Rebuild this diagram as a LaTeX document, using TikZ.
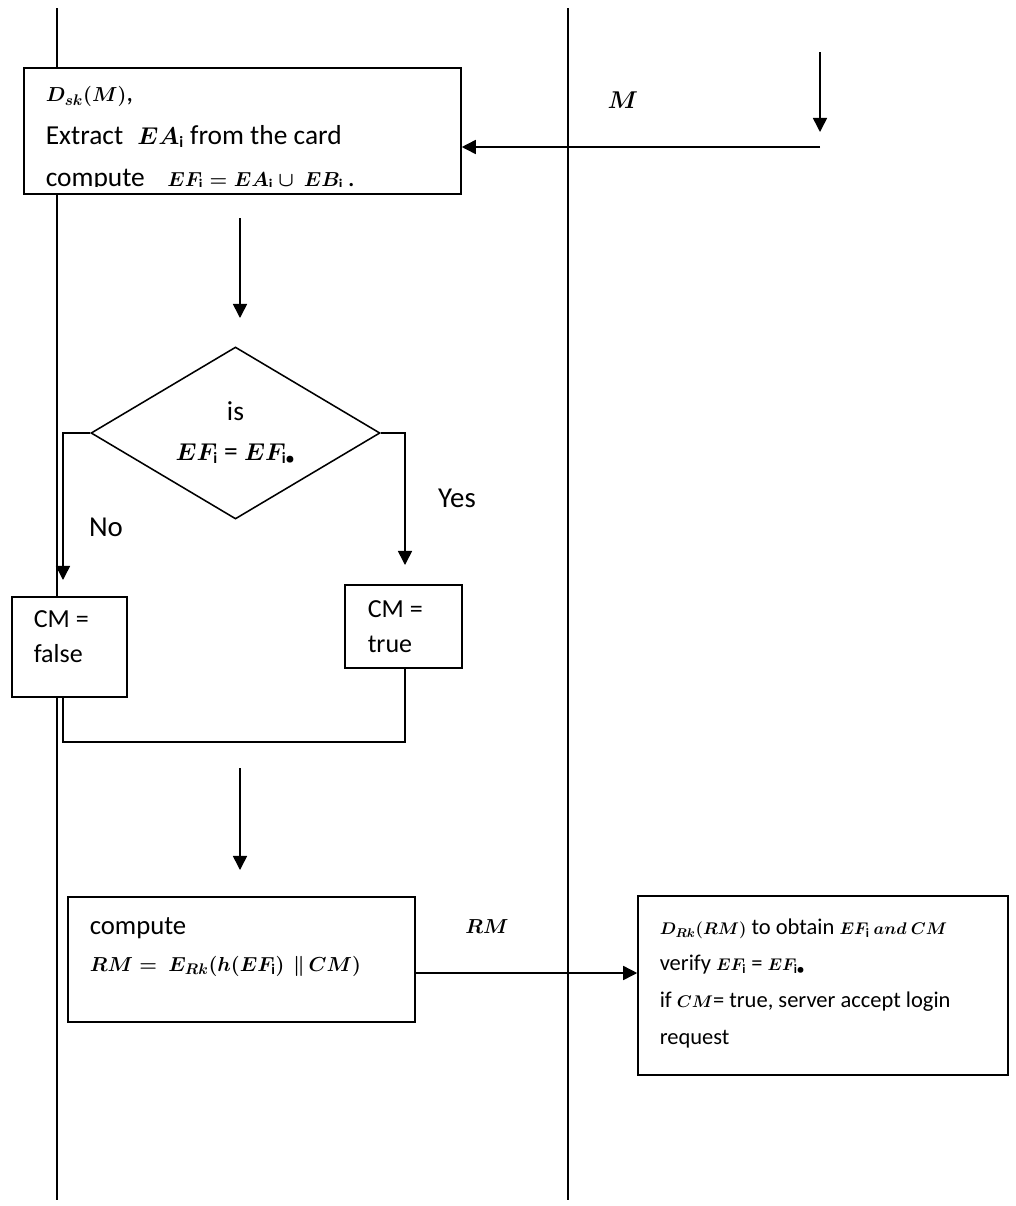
\documentclass[tikz,border=0pt]{standalone}
\usepackage{amsmath,amssymb}
\usepackage{fontspec}
\setmainfont{Carlito}
\usepackage{tikz}
\usetikzlibrary{arrows.meta,shapes.geometric}
% bold italic formula at its own size
\newcommand{\mth}[2][16]{{\fontsize{#1}{#1}\selectfont$\boldsymbol{#2}$}}

\begin{document}
\begin{tikzpicture}[x=0.025cm, y=-0.025cm, line width=1.1pt,
    font=\fontsize{19.5}{22}\selectfont,
    box/.style={draw, fill=white, inner sep=0pt},
    txt/.style={inner sep=0pt, align=left, anchor=north west},
    arr/.style={-{Triangle[length=10pt,width=10pt]}}]
    \def\u{0.025cm}
    \useasboundingbox (0,0) rectangle (1016,1206);
    % the two lifelines
    \coordinate (cardTop) at (57,8);
    \coordinate (cardBot) at (57,1200);
    \coordinate (srvTop) at (568,8);
    \coordinate (srvBot) at (568,1200);
    \draw (cardTop) -- (cardBot);
    \draw (srvTop) -- (srvBot);
    % boxes
    \node[box, minimum width=437*\u, minimum height=126*\u] (dec) at (242.5,131) {};
    \node[draw, diamond, fill=white, inner sep=0pt,
          minimum width=289*\u, minimum height=172*\u] (chk) at (235.5,433) {};
    \node[box, minimum width=115*\u, minimum height=100*\u] (cmF) at (69.5,647) {};
    \node[box, minimum width=117*\u, minimum height=83*\u] (cmT) at (403.5,626.5) {};
    \node[box, minimum width=347*\u, minimum height=125*\u] (rmBox) at (241.5,959.5) {};
    \node[box, minimum width=370*\u, minimum height=179*\u] (srv) at (823,985.5) {};
    % texts
    \begin{scope}
      \clip (24,68) rectangle (461,186);
      \node[txt, font=\fontsize{19.5}{30}\selectfont] (decTxt) at (45,86) {
        \mth[15.5]{D_{sk}(M)},\\
        Extract\hspace{10pt}\mth{EA_{\mathrm{i}}} from the card\\
        compute\hspace{16pt}\mth[15]{EF_{\mathrm{i}}=EA_{\mathrm{i}}\cup\ EB_{\mathrm{i}}}\,.};
    \end{scope}
    \node[align=center, font=\fontsize{19.5}{28}\selectfont] (chkTxt) at (chk.center) {
      is\\ \mth{EF_{\mathrm{i}}} = \mth{EF_{\mathrm{i}\bullet}}};
    \node[txt, font=\fontsize{18.5}{25}\selectfont] (cmFTxt) at (33,610) {CM =\\ false};
    \node[txt, font=\fontsize{18.5}{25}\selectfont] (cmTTxt) at (367,600) {CM =\\ true};
    \node[txt, font=\fontsize{19}{26}\selectfont] (rmTxt) at (89,917) {
      compute\\
      \mth[15]{RM=\ E_{Rk}(h(EF_{\mathrm{i}})\ \,\|\,CM)}};
    \node[txt, font=\fontsize{16}{26}\selectfont] (srvTxt) at (659,918) {
      \mth[13]{D_{Rk}(RM)} to obtain \mth[13]{EF_{\mathrm{i}}\ and\ CM}\\
      verify \mth[13]{EF_{\mathrm{i}}} = \mth[13]{EF_{\mathrm{i}\bullet}}\\
      if \mth[13]{CM}= true, server accept login\\
      request};
    \node (lblM) at (623,100) {\mth[17]{M}};
    \node (lblRM) at (487,927) {\mth[15]{RM}};
    \node[font=\fontsize{20.5}{22}\selectfont] (lblNo) at (106,527) {No};
    \node[font=\fontsize{20.5}{22}\selectfont] (lblYes) at (457,498) {Yes};
    % arrows
    \coordinate (mIn) at (820,52);
    \coordinate (mTip) at (820,132);
    \coordinate (mTurn) at (820,147);
    \draw[arr] (mIn) -- (mTip);
    \draw[arr] (mTurn) -- (mTurn -| dec.east);
    \coordinate (a1) at (240,218);
    \coordinate (a1Tip) at (240,318);
    \draw[arr] (a1) -- (a1Tip);
    \coordinate (noEnd) at (63,580);
    \coordinate (yesEnd) at (405,565);
    \draw[arr] (chk.west) -- (chk.west -| noEnd) -- (noEnd);
    \draw[arr] (chk.east) -- (chk.east -| yesEnd) -- (yesEnd);
    \coordinate (join) at (405,742);
    \draw (noEnd |- cmF.south) |- (join) -- (yesEnd |- cmT.south);
    \coordinate (a2) at (240,768);
    \coordinate (a2Tip) at (240,870);
    \draw[arr] (a2) -- (a2Tip);
    \coordinate (rmOut) at ([yshift=-9.6pt]rmBox.east);
    \draw[arr] (rmOut) -- (rmOut -| srv.west);
\end{tikzpicture}
\end{document}
